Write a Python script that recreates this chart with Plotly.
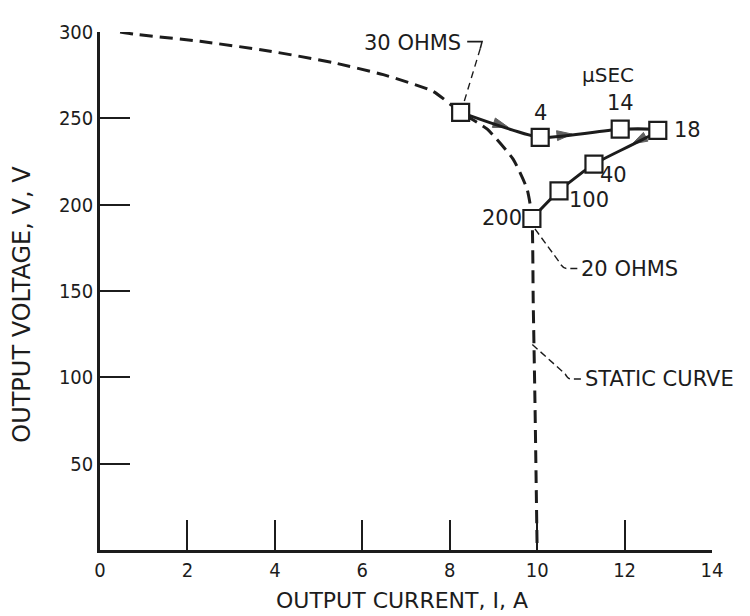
import plotly.graph_objects as go

# ---- data ----
static_i = [0.46, 0.76, 2.29, 3.82, 5.33, 6.48, 7.62, 8.25, 8.86, 9.45, 9.77, 9.88, 9.91, 9.95, 10.0]
static_v = [300, 298.8, 294.6, 289.2, 282.3, 275.3, 265.6, 253.5, 243.7, 226.4, 209, 193, 144, 86, 0]

trans_i = [8.25, 10.07, 11.9, 12.76, 11.3, 10.5, 9.88]
trans_v = [253.5, 239, 243.7, 243, 223.5, 208, 192]
trans_labels = ["", "4", "14", "18", "40", "100", "200"]

x_ticks = [0, 2, 4, 6, 8, 10, 12, 14]
y_ticks = [50, 100, 150, 200, 250, 300]

INK = "#1c1c1c"
FONT = "DejaVu Sans"
COND = "DejaVu Sans Condensed, DejaVu Sans"

fig = go.Figure()

# static curve (dashed)
fig.add_trace(go.Scatter(
    x=static_i, y=static_v, mode="lines",
    line=dict(color=INK, width=3, dash="13px,7px", shape="spline", smoothing=0.5),
    hoverinfo="skip", showlegend=False))

# transient trajectory
fig.add_trace(go.Scatter(
    x=trans_i, y=trans_v, mode="lines",
    line=dict(color=INK, width=3, shape="spline", smoothing=0.5),
    hoverinfo="skip", showlegend=False))

# arrowheads on selected segments (placed along the segment from the data)
for k, frac in [(0, 0.6), (1, 0.4), (3, 0.4)]:
    xm = trans_i[k] + frac * (trans_i[k + 1] - trans_i[k])
    ym = trans_v[k] + frac * (trans_v[k + 1] - trans_v[k])
    fig.add_trace(go.Scatter(
        x=[trans_i[k], xm], y=[trans_v[k], ym], mode="markers",
        marker=dict(symbol="arrow", angleref="previous", size=[0, 16],
                    color=INK, line=dict(width=1, color=INK)),
        hoverinfo="skip", showlegend=False))

# square markers
fig.add_trace(go.Scatter(
    x=trans_i, y=trans_v, mode="markers",
    marker=dict(symbol="square", size=17, color="white",
                line=dict(color=INK, width=2.2)),
    hoverinfo="skip", showlegend=False))

annotations = []
# point labels
offsets = {1: (0, 24, "center"), 2: (0, 26, "center"), 3: (14, 0, "left"),
           4: (20, -11, "center"), 5: (30, -9, "center"), 6: (-30, 0, "center")}
for idx, (dx, dy, anc) in offsets.items():
    annotations.append(dict(x=trans_i[idx], y=trans_v[idx], text=trans_labels[idx],
                            xshift=dx, yshift=dy, showarrow=False, xanchor=anc,
                            yanchor="middle",
                            font=dict(family=FONT, size=21, color=INK)))

def txt(x, y, s, anchor="center", size=21):
    annotations.append(dict(x=x, y=y, text=s, showarrow=False, xanchor=anchor,
                            yanchor="middle", font=dict(family=FONT, size=size, color=INK)))

txt(11.62, 275, "\u00b5SEC", size=20)
txt(8.30, 293.8, "30 OHMS", anchor="right")
txt(10.95, 163, "20 OHMS", anchor="left")
txt(11.05, 99, "STATIC CURVE", anchor="left")

# axis titles
annotations.append(dict(xref="paper", yref="paper", x=0.493, y=-0.098,
                        xanchor="center", yanchor="middle",
                        text="OUTPUT CURRENT, I, A", showarrow=False,
                        font=dict(family=FONT, size=22, color=INK)))
annotations.append(dict(xref="paper", yref="paper", x=-0.127, y=0.474,
                        xanchor="center", yanchor="middle",
                        text="OUTPUT VOLTAGE, V, V", showarrow=False, textangle=-90,
                        font=dict(family=FONT, size=24, color=INK)))

# leader lines
shapes = [
    dict(type="path", path="M 8.40 294.4 L 8.74 294.4 L 8.70 290.5",
         line=dict(color=INK, width=1.6)),
    dict(type="line", x0=8.70, y0=290.5, x1=8.31, y1=258,
         line=dict(color=INK, width=1.4, dash="7px,5px")),
    dict(type="path", path="M 9.95 186 L 10.5 167 Q 10.58 163 10.68 163 L 10.92 163",
         line=dict(color=INK, width=1.4, dash="7px,4px")),
    dict(type="path", path="M 9.89 119 L 10.64 102 Q 10.70 99 10.78 99 L 11.03 99",
         line=dict(color=INK, width=1.4, dash="7px,4px")),
]

fig.update_layout(
    width=750, height=616,
    margin=dict(l=92, r=46, t=21, b=74),
    paper_bgcolor="white", plot_bgcolor="white",
    showlegend=False,
    annotations=annotations,
    shapes=shapes,
    xaxis=dict(range=[0, 14], tickvals=x_ticks,
               showgrid=False, zeroline=False, showline=True, linecolor=INK, linewidth=2.5,
               ticks="inside", ticklen=30, tickwidth=2, tickcolor=INK,
               tickfont=dict(family=COND, size=20, color=INK)),
    yaxis=dict(range=[0, 300], tickvals=y_ticks, showgrid=False, zeroline=False,
               showline=True, linecolor=INK, linewidth=2.5,
               ticks="inside", ticklen=30, tickwidth=2, tickcolor=INK,
               tickfont=dict(family=COND, size=20, color=INK)),
)

fig.write_html("out.html")
